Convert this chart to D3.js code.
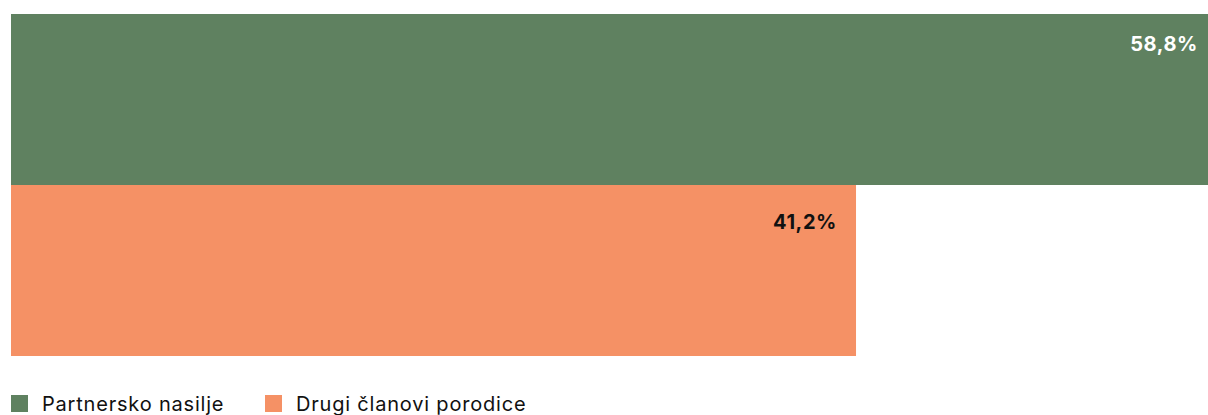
<!DOCTYPE html>
<html><head><meta charset="utf-8">
<script src="https://cdn.jsdelivr.net/npm/d3@7"></script>
<style>body{margin:0;background:#fff;overflow:hidden}svg{display:block}</style>
</head><body>
<svg id="c" width="1208" height="415"></svg>
<script>
const categories = ["Partnersko nasilje", "Drugi članovi porodice"];
const values = [58.8, 41.2];
const valueLabels = ["58,8%", "41,2%"];
const colors = ["#5f8160", "#f59165"];
const labelColors = ["#ffffff", "#111111"];

const svg = d3.select("#c");
const x = d3.scaleLinear().domain([0, 58.8]).range([11, 1217]);
const y = d3.scaleBand().domain(categories).range([14, 356]).padding(0);

svg.selectAll("rect.bar").data(categories).join("rect")
  .attr("class","bar")
  .attr("x", x(0))
  .attr("y", d => y(d))
  .attr("width", (d,i) => x(values[i]) - x(0))
  .attr("height", y.bandwidth())
  .attr("fill", (d,i) => colors[i]);

const labelDy = [37, 44];
svg.selectAll("text.val").data(categories).join("text")
  .attr("class","val")
  .attr("x", (d,i) => x(values[i]) - 19)
  .attr("y", (d,i) => y(d) + labelDy[i])
  .attr("text-anchor","end")
  .attr("font-family","Inter, sans-serif")
  .attr("font-weight","700")
  .attr("font-size","20px")
  .attr("letter-spacing","0.6px")
  .attr("fill",(d,i)=>labelColors[i])
  .text((d,i)=>valueLabels[i]);

const legX = [11, 265];
const lg = svg.selectAll("g.leg").data(categories).join("g")
  .attr("class","leg")
  .attr("transform",(d,i)=>`translate(${legX[i]},395)`);
lg.append("rect").attr("width",17).attr("height",17).attr("fill",(d,i)=>colors[i]);
lg.append("text").attr("x",31).attr("y",16)
  .attr("font-family","Inter, sans-serif").attr("font-size","20px").attr("fill","#111")
  .attr("letter-spacing","0.8px")
  .text(d=>d);
</script>
</body></html>
